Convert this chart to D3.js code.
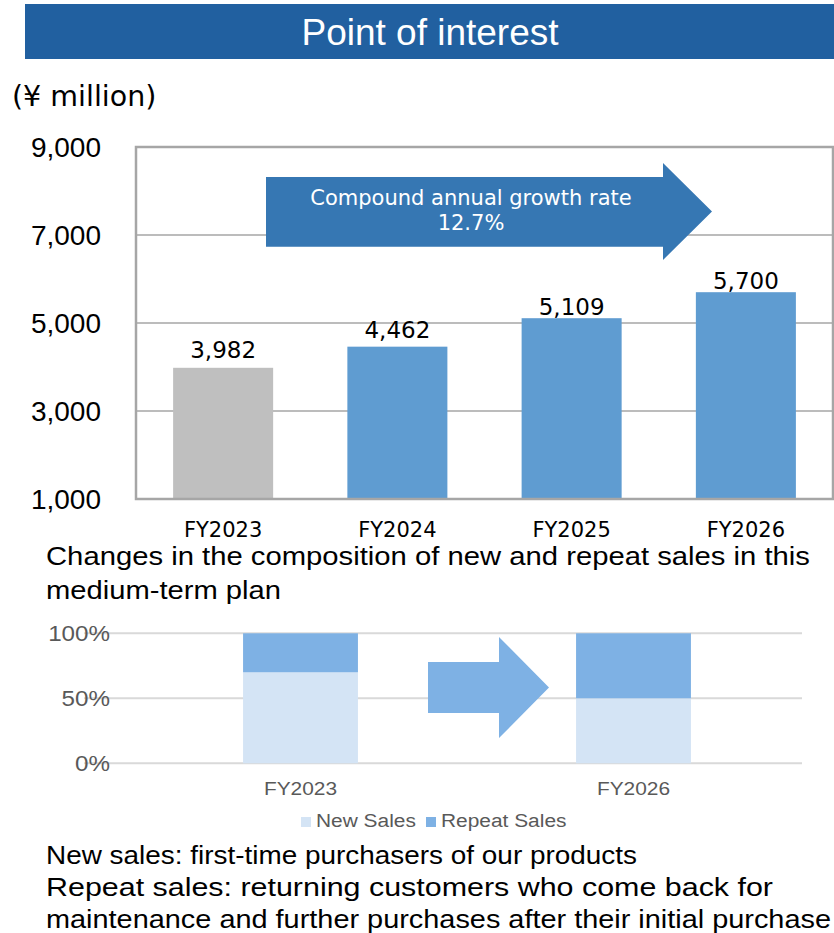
<!DOCTYPE html>
<html>
<head>
<meta charset="utf-8">
<script src="https://cdn.jsdelivr.net/npm/d3@7"></script>
<style>
  body { margin: 0; background: #fff; }
  svg { display: block; }
</style>
</head>
<body>
<div id="chart"></div>
<script>
const years = ["FY2023", "FY2024", "FY2025", "FY2026"];
const sales = [3982, 4462, 5109, 5700];
const salesTicks = [1000, 3000, 5000, 7000, 9000];
const barColors = ["#bfbfbf", "#5f9cd1", "#5f9cd1", "#5f9cd1"];

const mixYears = ["FY2023", "FY2026"];
const newShare = [70, 50];
const repeatShare = [30, 50];
const mixTicks = [0, 50, 100];
const mixSeries = ["New Sales", "Repeat Sales"];
const mixColors = ["#d4e4f5", "#7eb1e4"];

const subtitle = [
  "Changes in the composition of new and repeat sales in this",
  "medium-term plan"
];
const notes = [
  "New sales: first-time purchasers of our products",
  "Repeat sales: returning customers who come back for",
  "maintenance and further purchases after their initial purchase"
];

const W = 834, H = 933;
const ARIAL = "Liberation Sans, Arial, sans-serif";
const DEJAVU = "DejaVu Sans, Verdana, sans-serif";

// the lower half of the slide is a slightly wide-stretched picture
const STRETCH = 1.1;

const svg = d3.select("#chart").append("svg")
  .attr("width", W).attr("height", H)
  .attr("viewBox", `0 0 ${W} ${H}`);

// title banner
svg.append("rect").attr("x", 25).attr("y", 4).attr("width", W - 25).attr("height", 55)
  .attr("fill", "#2160a0");
svg.append("text").attr("x", 430).attr("y", 45).attr("text-anchor", "middle")
  .attr("font-family", ARIAL).attr("font-size", 37).attr("fill", "#fff")
  .text("Point of interest");

svg.append("text").attr("x", 12).attr("y", 106)
  .attr("font-family", DEJAVU).attr("font-size", 28.5).attr("fill", "#000")
  .text("(¥ million)");

// ---- upper chart: sales ----
const plot = { left: 136, right: 833, top: 147, bottom: 499 };

const x = d3.scaleBand().domain(years).range([plot.left, plot.right])
  .paddingInner(0.426).paddingOuter(0.213);
const y = d3.scaleLinear().domain([1000, 9000]).range([plot.bottom, plot.top]);

const upper = svg.append("g");

upper.append("g").selectAll("line")
  .data(salesTicks.slice(1, -1))
  .join("line")
  .attr("x1", plot.left).attr("x2", plot.right)
  .attr("y1", d => y(d)).attr("y2", d => y(d))
  .attr("stroke", "#a6a6a6").attr("stroke-width", 1.5);

// y tick labels
upper.append("g").selectAll("text")
  .data(salesTicks)
  .join("text")
  .attr("x", 101).attr("y", d => y(d) + 10)
  .attr("text-anchor", "end")
  .attr("font-family", ARIAL).attr("font-size", 28).attr("fill", "#000")
  .text(d => d3.format(",")(d));

// growth arrow
const arrowG = upper.append("g");
const ar = { x0: 266, x1: 663, tip: 712, y0: y(8318), y1: y(6734), h0: y(8636), h1: y(6432) };
arrowG.append("path")
  .attr("d", `M${ar.x0},${ar.y0}H${ar.x1}V${ar.h0}L${ar.tip},${(ar.h0 + ar.h1) / 2}L${ar.x1},${ar.h1}V${ar.y1}H${ar.x0}Z`)
  .attr("fill", "#3677b3");
arrowG.append("text").attr("x", 471).attr("y", 205).attr("text-anchor", "middle")
  .attr("font-family", DEJAVU).attr("font-size", 21).attr("fill", "#fff")
  .text("Compound annual growth rate");
arrowG.append("text").attr("x", 471).attr("y", 230).attr("text-anchor", "middle")
  .attr("font-family", DEJAVU).attr("font-size", 21).attr("fill", "#fff")
  .text("12.7%");

// bars
upper.append("g").selectAll("rect")
  .data(years)
  .join("rect")
  .attr("x", d => x(d))
  .attr("y", (d, i) => y(sales[i]))
  .attr("width", x.bandwidth())
  .attr("height", (d, i) => y(1000) - y(sales[i]))
  .attr("fill", (d, i) => barColors[i]);

// label gap above each bar (excel pushed the last two closer)
const labelGap = [10, 9, 3, 3];
upper.append("g").selectAll("text")
  .data(years)
  .join("text")
  .attr("x", d => x(d) + x.bandwidth() / 2)
  .attr("y", (d, i) => y(sales[i]) - labelGap[i])
  .attr("text-anchor", "middle")
  .attr("font-family", DEJAVU).attr("font-size", 23).attr("fill", "#000")
  .text((d, i) => d3.format(",")(sales[i]));

// frame
upper.append("rect")
  .attr("x", plot.left).attr("y", plot.top)
  .attr("width", plot.right - plot.left).attr("height", plot.bottom - plot.top)
  .attr("fill", "none").attr("stroke", "#a6a6a6").attr("stroke-width", 2.5);

// category labels
upper.append("g").selectAll("text")
  .data(years)
  .join("text")
  .attr("x", d => x(d) + x.bandwidth() / 2)
  .attr("y", 537)
  .attr("text-anchor", "middle")
  .attr("font-family", DEJAVU).attr("font-size", 21).attr("fill", "#000")
  .text(d => d);

// subtitle
const subLen = [764, 235];
svg.append("g").selectAll("text")
  .data(subtitle)
  .join("text")
  .attr("x", 46).attr("y", (d, i) => 565 + i * 34)
  .attr("font-family", ARIAL).attr("font-size", 25.5).attr("fill", "#000")
  .attr("textLength", (d, i) => subLen[i])
  .attr("lengthAdjust", "spacingAndGlyphs")
  .text(d => d);

// ---- lower chart: sales mix ----
const mix = { left: 134, right: 800, top: 633.3, bottom: 763.3 };
const mx = d3.scaleBand().domain(mixYears).range([mix.left, mix.right])
  .paddingInner(0.655).paddingOuter(0.3275);
const my = d3.scaleLinear().domain([0, 100]).range([mix.bottom, mix.top]);

const lower = svg.append("g");

lower.append("g").selectAll("line")
  .data(mixTicks)
  .join("line")
  .attr("x1", mix.left - 50).attr("x2", mix.right + 2)
  .attr("y1", d => my(d)).attr("y2", d => my(d))
  .attr("stroke", "#d9d9d9").attr("stroke-width", 2);

lower.append("g").selectAll("text")
  .data(mixTicks)
  .join("text")
  .attr("transform", d => `translate(110,${my(d) + 8}) scale(${STRETCH},1)`)
  .attr("text-anchor", "end")
  .attr("font-family", ARIAL).attr("font-size", 22).attr("fill", "#595959")
  .text(d => d + "%");

const stacked = d3.stack().keys([0, 1])(mixYears.map((d, i) => [newShare[i], repeatShare[i]]));

lower.append("g").selectAll("g")
  .data(stacked)
  .join("g")
  .attr("fill", (s, k) => mixColors[k])
  .selectAll("rect")
  .data(s => s)
  .join("rect")
  .attr("x", (d, i) => mx(mixYears[i]))
  .attr("y", d => my(d[1]))
  .attr("width", mx.bandwidth())
  .attr("height", d => my(d[0]) - my(d[1]));

// shift arrow
const sa = { x0: 428, x1: 499, tip: 549, y0: 662, y1: 713, h0: 637, h1: 738 };
lower.append("path")
  .attr("d", `M${sa.x0},${sa.y0}H${sa.x1}V${sa.h0}L${sa.tip},${(sa.h0 + sa.h1) / 2}L${sa.x1},${sa.h1}V${sa.y1}H${sa.x0}Z`)
  .attr("fill", "#7eb1e4");

lower.append("g").selectAll("text")
  .data(mixYears)
  .join("text")
  .attr("transform", d => `translate(${mx(d) + mx.bandwidth() / 2},795) scale(${STRETCH},1)`)
  .attr("text-anchor", "middle")
  .attr("font-family", ARIAL).attr("font-size", 19).attr("fill", "#595959")
  .text(d => d);

// legend
const legendX = [301, 426];
const legend = lower.append("g").selectAll("g")
  .data(mixSeries)
  .join("g")
  .attr("transform", (d, i) => `translate(${legendX[i]},817)`);
legend.append("rect").attr("width", 10).attr("height", 10)
  .attr("fill", (d, i) => mixColors[i]);
legend.append("text")
  .attr("transform", `translate(15,10) scale(${STRETCH},1)`)
  .attr("font-family", ARIAL).attr("font-size", 19).attr("fill", "#595959")
  .text(d => d);

// notes
const noteLen = [591, 727, 785];
svg.append("g").selectAll("text")
  .data(notes)
  .join("text")
  .attr("x", 46).attr("y", (d, i) => 864 + i * 32)
  .attr("font-family", ARIAL).attr("font-size", 25).attr("fill", "#000")
  .attr("textLength", (d, i) => noteLen[i])
  .attr("lengthAdjust", "spacingAndGlyphs")
  .text(d => d);
</script>
</body>
</html>
